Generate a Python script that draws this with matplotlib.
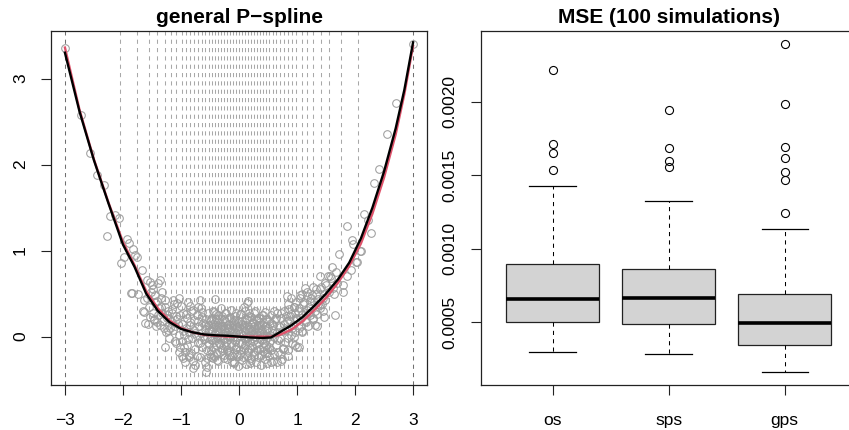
import matplotlib.pyplot as plt

plt.rcParams['font.family'] = ['Liberation Sans', 'DejaVu Sans']

# left panel: knots, data points, true curve (red) and fit (black)
knots = [-3, -2.05, -1.75, -1.55, -1.41, -1.28, -1.17, -1.08, -0.99, -0.92, -0.84,
         -0.77, -0.71, -0.64, -0.58, -0.52, -0.47, -0.41, -0.36, -0.31, -0.25, -0.20,
         -0.15, -0.10, -0.05, 0.00, 0.05, 0.10, 0.15, 0.20, 0.25, 0.31, 0.36, 0.41,
         0.47, 0.52, 0.58, 0.64, 0.71, 0.77, 0.84, 0.92, 0.99, 1.08, 1.17, 1.28, 1.41,
         1.55, 1.75, 2.05, 3]

x_left = [-3.00, -2.72, -2.56, -2.45, -2.33, -2.22, -2.13, -2.06, -2.28, -2.03, -1.93,
          -1.89, -1.83, -1.79, -1.76, -1.99, -1.67, -1.86, -1.74, -1.59, -1.50, -1.37,
          -1.33, -1.64, -1.63, -1.56, -1.47, -1.41, -1.24, -1.27, -1.13, -1.07, -1.85,
          -1.54, -1.65, -1.53, -1.62,
          -1.58, -1.55, -1.52, -1.49, -1.45, -1.43, -1.39, -1.35, -1.31, -1.27, -1.23, -1.21]
y_left = [3.35, 2.58, 2.13, 1.88, 1.76, 1.40, 1.41, 1.38, 1.17, 0.86, 1.13,
          1.09, 1.02, 0.95, 0.93, 0.93, 0.78, 0.51, 0.50, 0.66, 0.60, 0.66,
          0.52, 0.42, 0.29, 0.15, 0.19, 0.41, 0.25, -0.12, 0.42, 0.39, 0.51,
          0.64, 0.30, 0.23, 0.16,
          0.45, 0.35, 0.52, 0.28, 0.40, 0.12, 0.25, 0.35, 0.18, 0.42, 0.08, 0.20]

x_right = [3.00, 2.70, 2.55, 2.42, 2.33, 2.16, 2.22, 2.27, 1.86, 1.94, 1.97, 2.10, 2.04,
           1.73, 1.60, 1.93, 1.86, 1.80, 1.80, 1.66, 1.40, 1.54, 1.48, 1.28, 1.23, 1.17,
           1.08, 1.46, 1.31, 1.40, 1.63, 1.69, 0.94, 1.00, 0.82, 1.03, 0.74, 1.57, 1.14,
           1.05, 1.34, 2.09, 2.02,
           1.20, 1.24, 1.28, 1.32, 1.36, 1.40, 1.44, 1.50, 1.55, 1.59, 1.62, 1.68]
y_right = [3.40, 2.72, 2.36, 1.95, 1.78, 1.43, 1.35, 1.20, 1.29, 1.12, 1.08, 1.00, 0.87,
           0.96, 0.81, 0.77, 0.70, 0.60, 0.52, 0.25, 0.70, 0.70, 0.62, 0.58, 0.41, 0.47,
           0.50, 0.23, 0.14, 0.37, 0.50, 0.62, 0.35, -0.12, 0.47, -0.12, -0.26, 0.71, 0.56,
           0.48, 0.12, 1.00, 0.87,
           0.28, 0.45, 0.22, 0.50, 0.38, 0.55, 0.45, 0.60, 0.52, 0.68, 0.56, 0.75]

x_mid = [-1.48, -1.46, -1.44, -1.42, -1.40, -1.38, -1.36, -1.34, -1.32, -1.30, -1.28, -1.26,
         -1.24, -1.22, -1.20, -1.18, -1.16, -1.14, -1.12, -1.10, -1.08, -1.06, -1.04, -1.02,
         -1.01,
         -0.99, -0.98, -0.96, -0.95, -0.93, -0.92, -0.90, -0.89, -0.87, -0.86, -0.84, -0.83,
         -0.81, -0.80, -0.78, -0.77, -0.75, -0.74, -0.72, -0.71, -0.69, -0.68, -0.66, -0.65,
         -0.63, -0.62, -0.60, -0.59, -0.58, -0.57, -0.56, -0.55, -0.54, -0.53, -0.52, -0.51,
         -0.505, -0.50, -0.97, -0.85,
         -0.49, -0.48, -0.47, -0.46, -0.45, -0.44, -0.43, -0.42, -0.41, -0.40, -0.39, -0.38,
         -0.37, -0.36, -0.35, -0.34, -0.33, -0.32, -0.31, -0.30, -0.29, -0.28, -0.27, -0.26,
         -0.25, -0.24, -0.23, -0.22, -0.21, -0.20, -0.19, -0.18, -0.17, -0.16, -0.15, -0.14,
         -0.13, -0.12, -0.11, -0.10, -0.09, -0.08, -0.07, -0.06, -0.05, -0.04, -0.03, -0.02,
         -0.01, -0.005,
         0.005, 0.01, 0.02, 0.03, 0.04, 0.05, 0.06, 0.07, 0.08, 0.09, 0.10, 0.11, 0.12, 0.13,
         0.14, 0.15, 0.16, 0.17, 0.18, 0.19, 0.20, 0.21, 0.22, 0.23, 0.24, 0.25, 0.26, 0.27,
         0.28, 0.29, 0.30, 0.31, 0.32, 0.33, 0.34, 0.35, 0.36, 0.37, 0.38, 0.39, 0.40, 0.41,
         0.42, 0.43, 0.44, 0.45, 0.46, 0.47, 0.48, 0.49,
         0.50, 0.51, 0.52, 0.53, 0.54, 0.55, 0.56, 0.57, 0.58, 0.59, 0.60, 0.62, 0.63, 0.65,
         0.66, 0.68, 0.69, 0.71, 0.72, 0.74, 0.75, 0.77, 0.78, 0.80, 0.81, 0.83, 0.84, 0.86,
         0.87, 0.89, 0.90, 0.92, 0.93, 0.95, 0.96, 0.98, 0.99, 0.55, 0.70, 0.85,
         1.01, 1.03, 1.05, 1.07, 1.09, 1.11, 1.13, 1.15, 1.17, 1.19, 1.21, 1.23, 1.25, 1.27,
         1.29, 1.31, 1.33, 1.35, 1.37, 1.39, 1.41, 1.43, 1.45, 1.47, 1.49,
         -0.98, -0.87, -0.80, -0.67, -0.57, -0.41, -0.44, -0.09, -0.02, 0.19, 0.14, 0.16, 0.48]
y_mid = [0.55, 0.21, 0.48, 0.17, 0.62, 0.33, 0.14, 0.45, 0.28, 0.10, 0.35, 0.05,
         0.22, 0.30, -0.02, 0.18, 0.27, 0.08, 0.38, 0.12, -0.08, 0.20, 0.02, 0.25,
         -0.12,
         0.15, -0.05, 0.28, 0.02, -0.18, 0.10, 0.22, -0.10, 0.05, -0.21, 0.17, 0.30,
         -0.02, -0.28, 0.08, 0.19, -0.14, 0.02, 0.25, -0.07, 0.12, -0.24, 0.04, 0.33,
         -0.12, 0.16, -0.03, 0.09, -0.30, 0.21, 0.00, -0.16, 0.13, 0.27, -0.09, 0.06,
         -0.20, 0.18, -0.25, 0.36,
         0.08, -0.15, 0.22, -0.04, 0.30, 0.11, -0.22, 0.03, 0.17, -0.10, 0.26, -0.27,
         0.05, 0.14, -0.08, 0.20, -0.18, 0.01, 0.09, -0.13, 0.24, -0.02, 0.12, -0.25,
         0.06, 0.18, -0.06, 0.28, -0.16, 0.02, 0.10, -0.21, 0.15, -0.01, 0.23, -0.11,
         0.04, -0.30, 0.13, 0.07, -0.19, 0.19, -0.05, 0.27, -0.14, 0.00, 0.11, -0.23,
         0.16, -0.07,
         0.12, -0.20, 0.05, 0.26, -0.09, 0.18, -0.27, 0.02, 0.14, -0.13, 0.30, -0.03, 0.09, -0.22,
         0.21, 0.00, -0.16, 0.11, 0.24, -0.06, 0.07, -0.25, 0.16, -0.11, 0.03, 0.27, -0.18, 0.10,
         -0.01, 0.19, -0.29, 0.06, 0.13, -0.08, 0.22, -0.14, 0.04, 0.17, -0.21, 0.08, -0.04, 0.25,
         -0.17, 0.01, 0.12, -0.26, 0.20, -0.10, 0.06, -0.19,
         0.10, -0.22, 0.18, -0.05, 0.02, 0.25, -0.15, 0.08, -0.28, 0.14, 0.00, 0.20, -0.10, 0.05,
         0.28, -0.18, 0.12, -0.02, 0.22, 0.07, -0.13, 0.30, 0.15, -0.06, 0.24, 0.09, -0.16, 0.19,
         0.32, 0.02, 0.26, -0.08, 0.14, 0.35, 0.05, 0.22, 0.40, -0.30, -0.20, 0.38,
         0.30, 0.10, 0.45, 0.22, 0.05, 0.38, 0.18, 0.28, 0.52, 0.12, 0.35, 0.25, 0.48, 0.20,
         0.40, 0.30, 0.55, 0.26, 0.44, 0.33, 0.58, 0.38, 0.30, 0.50, 0.42,
         -0.23, -0.24, -0.37, 0.42, -0.41, 0.44, -0.25, -0.31, -0.34, -0.31, 0.39, 0.41, -0.31]

# second batch of points for the dense middle of the cloud
x_mid2 = [-1.19, -1.15, -1.11, -1.09, -1.05, -1.03, -1.00, -0.97, -0.94, -0.91, -0.88, -0.85,
          -0.82, -0.79, -0.76, -0.73, -0.70, -0.67, -0.64, -0.61, -0.58, -0.55, -0.52, -0.88,
          -0.76, -0.64, -1.03, -0.93, -0.70, -0.56,
          -0.495, -0.485, -0.475, -0.465, -0.455, -0.445, -0.435, -0.425, -0.415, -0.405,
          -0.395, -0.385, -0.375, -0.365, -0.355, -0.345, -0.335, -0.325, -0.315, -0.305,
          -0.295, -0.285, -0.275, -0.265, -0.255, -0.245, -0.235, -0.225, -0.215, -0.205,
          -0.195, -0.185, -0.175, -0.165, -0.155, -0.145, -0.135, -0.125, -0.115, -0.105,
          -0.095, -0.085, -0.075, -0.065, -0.055, -0.045, -0.035, -0.025, -0.015, 0.015,
          0.025, 0.035, 0.045, 0.055, 0.065, 0.075, 0.085, 0.095, 0.105, 0.115,
          0.125, 0.135, 0.145, 0.155, 0.165, 0.175, 0.185, 0.195, 0.205, 0.215,
          0.225, 0.235, 0.245, 0.255, 0.265, 0.275, 0.285, 0.295, 0.305, 0.315,
          0.325, 0.335, 0.345, 0.355, 0.365, 0.375, 0.385, 0.395, 0.405, 0.415,
          0.425, 0.435, 0.445, 0.455, 0.465, 0.475, 0.485, 0.495,
          0.52, 0.55, 0.58, 0.61, 0.64, 0.67, 0.70, 0.73, 0.76, 0.79, 0.82, 0.85, 0.88, 0.91,
          0.94, 0.97, 1.00, 1.03, 1.06, 1.09, 1.12, 1.15, 1.18, 0.60, 0.72, 0.84, 0.96, 1.08,
          0.66, 0.90]
y_mid2 = [0.10, 0.32, -0.05, 0.24, 0.15, -0.18, 0.36, 0.07, -0.12, 0.26, -0.03, 0.13,
          -0.19, 0.31, 0.04, -0.22, 0.18, -0.08, 0.23, 0.01, 0.14, -0.25, 0.09, 0.40,
          -0.33, 0.29, 0.45, -0.30, 0.35, -0.35,
          -0.03, 0.19, -0.24, 0.07, 0.15, -0.12, 0.29, -0.06, 0.04, 0.21,
          -0.19, 0.11, -0.02, 0.25, -0.28, 0.08, 0.16, -0.09, 0.02, 0.33,
          -0.15, 0.12, -0.04, 0.20, -0.21, 0.05, 0.27, -0.11, 0.14, -0.26,
          0.09, 0.01, -0.17, 0.22, 0.06, -0.08, 0.31, -0.23, 0.10, 0.17,
          -0.01, -0.29, 0.13, 0.24, -0.12, 0.04, -0.20, 0.18, 0.08, -0.16,
          0.26, 0.03, -0.07, 0.15, -0.24, 0.11, 0.34, -0.10, 0.06, -0.32,
          0.20, -0.02, 0.14, -0.18, 0.09, 0.28, -0.13, 0.01, 0.23, -0.27,
          0.07, 0.16, -0.05, -0.21, 0.12, 0.30, -0.09, 0.04, 0.19, -0.15,
          0.10, -0.24, 0.22, -0.03, 0.13, -0.33, 0.06, 0.25, -0.12, 0.17,
          -0.07, 0.02, -0.19, 0.29, 0.08, -0.14, 0.21, -0.01,
          -0.12, 0.16, 0.04, -0.20, 0.22, -0.04, 0.11, 0.27, -0.14, 0.08, 0.18, -0.02, 0.24, 0.10,
          0.00, 0.28, 0.20, 0.33, 0.12, 0.26, 0.40, 0.17, 0.31, 0.30, -0.28, -0.22, -0.10, 0.06,
          -0.30, 0.45]

curve_x = [-3.0, -2.75, -2.5, -2.25, -2.0, -1.8, -1.6, -1.4, -1.2, -1.0, -0.8, -0.6, -0.4,
           -0.2, 0.0, 0.2, 0.4, 0.55, 0.7, 0.9, 1.1, 1.3, 1.5, 1.7, 1.9, 2.1, 2.3, 2.5,
           2.7, 2.85, 3.0]
true_y = [3.36, 2.64, 2.06, 1.56, 1.10, 0.83, 0.53, 0.33, 0.19, 0.10, 0.05, 0.02, 0.01,
          0.0, 0.0, 0.0, 0.0, 0.0, 0.02, 0.08, 0.18, 0.31, 0.45, 0.62, 0.82, 1.08, 1.43, 1.85,
          2.35, 2.82, 3.38]
fit_y = [3.30, 2.62, 2.05, 1.55, 1.07, 0.81, 0.50, 0.30, 0.17, 0.09, 0.05, 0.025, 0.015,
         0.01, 0.0, -0.01, -0.015, -0.01, 0.05, 0.13, 0.23, 0.36, 0.50, 0.66, 0.86, 1.14, 1.50,
         1.92, 2.42, 2.87, 3.42]

# right panel: boxplot stats
methods = ['os', 'sps', 'gps']
whislo = [0.000293, 0.000284, 0.000160]
q1 = [0.000502, 0.000486, 0.000345]
med = [0.000657, 0.000663, 0.000490]
q3 = [0.000897, 0.000861, 0.000693]
whishi = [0.001424, 0.001326, 0.001131]
fliers = [[0.002217, 0.001715, 0.001651, 0.001537],
          [0.001944, 0.001687, 0.001594, 0.001556],
          [0.002394, 0.001987, 0.001696, 0.001621, 0.001519, 0.001469, 0.001240]]

fig = plt.figure(figsize=(8.49, 4.30), dpi=100)
ax1 = fig.add_axes([51/849, 45/430, 376/849, 354/430])
ax2 = fig.add_axes([480.7/849, 45/430, 376/849, 354/430])

grey = '#9e9e9e'
for k in knots:
    c = '#707070' if abs(k) == 3 else '#a8a8a8'
    ax1.axvline(k, color=c, lw=0.75, dashes=(4, 4), zorder=1)

xs = x_left + x_mid + x_mid2 + x_right
ys = y_left + y_mid + y_mid2 + y_right
ax1.plot(xs, ys, 'o', ms=5.5, mfc='none', mec=grey, mew=0.75, zorder=2)
ax1.plot(curve_x, true_y, color='#df536b', lw=1.7, zorder=3)
ax1.plot(curve_x, fit_y, color='black', lw=1.7, zorder=4)

xr = max(xs) - min(xs)
yr = max(ys) - min(ys)
ax1.set_xlim(min(xs) - 0.04*xr, max(xs) + 0.04*xr)
ax1.set_ylim(min(ys) - 0.04*yr, max(ys) + 0.04*yr)
ax1.set_xticks([-3, -2, -1, 0, 1, 2, 3])
ax1.set_yticks([0, 1, 2, 3])
ax1.set_yticklabels(['0', '1', '2', '3'], rotation=90, va='center')

stats = []
for i in range(3):
    stats.append({'label': methods[i], 'whislo': whislo[i], 'q1': q1[i], 'med': med[i],
                  'q3': q3[i], 'whishi': whishi[i], 'fliers': fliers[i]})
ax2.bxp(stats, positions=[1, 2, 3], widths=0.8, capwidths=0.4, patch_artist=True,
        boxprops=dict(facecolor='#d3d3d3', edgecolor='#222222', lw=0.9),
        medianprops=dict(color='black', lw=2.6, solid_capstyle='butt'),
        whiskerprops=dict(color='black', lw=0.75, dashes=(4, 4)),
        capprops=dict(color='black', lw=0.9),
        flierprops=dict(marker='o', ms=5.8, mfc='none', mec='black', mew=0.8))

allv = whislo + whishi + [v for f in fliers for v in f]
vr = max(allv) - min(allv)
ax2.set_xlim(0.38, 3.62)
ax2.set_ylim(min(allv) - 0.04*vr, max(allv) + 0.04*vr)
ax2.set_yticks([0.0005, 0.0010, 0.0015, 0.0020])
ax2.set_yticklabels(['0.0005', '0.0010', '0.0015', '0.0020'], rotation=90, va='center')

for ax in (ax1, ax2):
    for s in ax.spines.values():
        s.set_linewidth(0.9)
        s.set_color('#222222')
    ax.tick_params(direction='out', length=7.5, width=0.8, labelsize=12.5, color='#222222')
    ax.tick_params(axis='x', pad=13)
    ax.tick_params(axis='y', pad=9)

fig.text(239/849, 1 - 22.7/430, 'general P\u2212spline', ha='center', va='baseline',
         fontsize=15, fontweight='bold')
fig.text(668.7/849, 1 - 22.7/430, 'MSE (100 simulations)', ha='center', va='baseline',
         fontsize=15, fontweight='bold')

fig.savefig('out.png', dpi=100)
